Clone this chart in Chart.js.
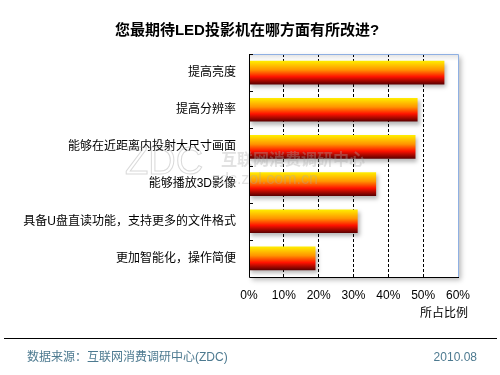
<!DOCTYPE html>
<html><head><meta charset="utf-8">
<script src="https://cdn.jsdelivr.net/npm/chart.js@4"></script>
<style>html,body{margin:0;padding:0;background:#fff}canvas{display:block}</style>
</head><body>
<canvas id="c" width="500" height="375"></canvas>
<script>
const categories = ['提高亮度','提高分辨率','能够在近距离内投射大尺寸画面','能够播放3D影像','具备U盘直读功能，支持更多的文件格式','更加智能化，操作简便'];
const values = [56.0, 48.3, 47.7, 36.4, 31.1, 19.0];
const xTicks = [0, 10, 20, 30, 40, 50, 60];
const titleText = '您最期待LED投影机在哪方面有所改进?';
const axisTitle = '所占比例';
const sourceText = '数据来源：互联网消费调研中心(ZDC)';
const dateText = '2010.08';
const wmBig = 'ZDC';
const wmName = '互联网消费调研中心';
const wmUrl = 'zdc.zol.com.cn';

const FONT = "'Liberation Sans', 'Noto Sans CJK SC', sans-serif";
const BAR_H = 23;

function barGradient(ctx) {
  const chart = ctx.chart;
  const ys = chart.scales && chart.scales.y;
  if (!ys || ctx.dataIndex === undefined || !chart.chartArea) return '#ff6000';
  const c = ys.getPixelForValue(ctx.dataIndex);
  const g = chart.ctx.createLinearGradient(0, c - BAR_H / 2, 0, c + BAR_H / 2);
  g.addColorStop(0, '#ffec00');
  g.addColorStop(0.38, '#ff9400');
  g.addColorStop(0.68, '#ff1200');
  g.addColorStop(1, '#5e0000');
  return g;
}

const decor = {
  id: 'decor',
  beforeDraw(chart) {
    const ctx = chart.ctx, a = chart.chartArea;
    ctx.save();
    ctx.fillStyle = '#fff';
    ctx.fillRect(0, 0, chart.width, chart.height);
    // title
    ctx.fillStyle = '#000';
    ctx.font = 'bold 15px ' + FONT;
    ctx.textAlign = 'center';
    ctx.textBaseline = 'middle';
    ctx.fillText(titleText, 247, 31);
    // plot area shadow
    ctx.save();
    ctx.shadowColor = 'rgba(0,0,0,0.28)';
    ctx.shadowBlur = 5;
    ctx.shadowOffsetX = 3;
    ctx.shadowOffsetY = 3;
    ctx.fillStyle = '#fff';
    ctx.fillRect(a.left, a.top, a.right - a.left, a.bottom - a.top);
    ctx.restore();
    // top inner shade
    const g = ctx.createLinearGradient(0, a.top, 0, a.top + 7);
    g.addColorStop(0, 'rgba(0,0,0,0.12)');
    g.addColorStop(1, 'rgba(0,0,0,0)');
    ctx.fillStyle = g;
    ctx.fillRect(a.left, a.top, a.right - a.left, 7);
    ctx.restore();
  },
  beforeDatasetsDraw(chart) {
    const ctx = chart.ctx;
    ctx.save();
    ctx.shadowColor = 'rgba(0,0,0,0.28)';
    ctx.shadowBlur = 4;
    ctx.shadowOffsetX = 2;
    ctx.shadowOffsetY = 3;
  },
  afterDatasetsDraw(chart) {
    const ctx = chart.ctx;
    ctx.restore();
    // watermark (faint, over everything in the middle)
    ctx.save();
    ctx.textAlign = 'left';
    ctx.textBaseline = 'middle';
    ctx.strokeStyle = 'rgba(170,170,170,0.45)';
    ctx.lineWidth = 1;
    ctx.font = '38px ' + FONT;
    ctx.strokeText(wmBig, 125, 164);
    ctx.fillStyle = 'rgba(170,170,170,0.35)';
    ctx.font = 'bold 16px ' + FONT;
    ctx.fillText(wmName, 221, 161);
    ctx.font = '16px ' + FONT;
    ctx.fillText(wmUrl, 212, 180);
    ctx.restore();
  },
  afterDraw(chart) {
    const ctx = chart.ctx, a = chart.chartArea;
    ctx.save();
    // top/right blue border
    ctx.strokeStyle = '#8fb0e3';
    ctx.lineWidth = 1;
    ctx.beginPath();
    ctx.moveTo(a.left, a.top + 0.5);
    ctx.lineTo(a.right + 0.5, a.top + 0.5);
    ctx.lineTo(a.right + 0.5, a.bottom);
    ctx.stroke();
    // axes
    ctx.strokeStyle = '#000';
    ctx.beginPath();
    ctx.moveTo(a.left + 0.5, a.top);
    ctx.lineTo(a.left + 0.5, a.bottom + 0.5);
    ctx.lineTo(a.right + 1, a.bottom + 0.5);
    ctx.stroke();
    // y ticks at category boundaries
    const band = (a.bottom - a.top) / categories.length;
    ctx.beginPath();
    for (let i = 0; i < categories.length; i++) {
      const y = Math.round(a.top + i * band) + 0.5;
      ctx.moveTo(a.left, y);
      ctx.lineTo(a.left + 4, y);
    }
    ctx.stroke();
    // axis title
    ctx.fillStyle = '#000';
    ctx.font = '12px ' + FONT;
    ctx.textAlign = 'right';
    ctx.textBaseline = 'middle';
    ctx.fillText(axisTitle, 468, 314);
    // footer line
    ctx.beginPath();
    ctx.moveTo(4, 338.5);
    ctx.lineTo(497, 338.5);
    ctx.stroke();
    // footer texts
    ctx.fillStyle = '#4d7a90';
    ctx.textAlign = 'left';
    ctx.fillText(sourceText, 27, 358);
    ctx.textAlign = 'right';
    ctx.fillText(dateText, 477, 358);
    ctx.restore();
  }
};

new Chart(document.getElementById('c'), {
  type: 'bar',
  data: {
    labels: categories,
    datasets: [{
      data: values,
      backgroundColor: barGradient,
      borderWidth: 0,
      barThickness: BAR_H
    }]
  },
  options: {
    indexAxis: 'y',
    responsive: false,
    animation: false,
    devicePixelRatio: 1,
    layout: { padding: { top: 54, right: 42, left: 0, bottom: 0 } },
    plugins: { legend: { display: false }, title: { display: false }, tooltip: { enabled: false } },
    scales: {
      x: {
        type: 'linear',
        min: xTicks[0],
        max: xTicks[xTicks.length - 1],
        afterBuildTicks: (s) => { s.ticks = xTicks.map(v => ({ value: v })); },
        afterFit: (s) => { s.height = 98; },
        ticks: {
          callback: (v) => v + '%',
          color: '#000',
          font: { size: 12, family: FONT },
          padding: 11,
          maxRotation: 0,
          autoSkip: false
        },
        grid: {
          drawTicks: false,
          color: (c) => (c.tick && (c.tick.value === 0 || c.tick.value === 60)) ? 'rgba(0,0,0,0)' : '#000',
          lineWidth: 1
        },
        border: { display: false, dash: [3, 2] }
      },
      y: {
        afterFit: (s) => { s.width = 249; },
        ticks: {
          color: '#000',
          font: { size: 12, family: FONT },
          padding: 13
        },
        grid: { display: false, drawTicks: false },
        border: { display: false }
      }
    }
  },
  plugins: [decor]
});
</script>
</body></html>
